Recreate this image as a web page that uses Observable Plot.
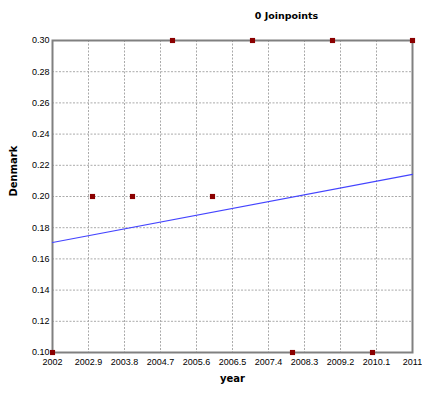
<!DOCTYPE html>
<html>
<head>
<meta charset="utf-8">
<script src="https://cdn.jsdelivr.net/npm/d3@7"></script>
<script src="https://cdn.jsdelivr.net/npm/@observablehq/plot@0.6"></script>
<style>
  html, body { margin: 0; padding: 0; background: #fff; }
</style>
</head>
<body>
<div id="chart"></div>
<script>
const years = [2002, 2003, 2004, 2005, 2006, 2007, 2008, 2009, 2010, 2011];
const rates = [0.10, 0.20, 0.20, 0.30, 0.20, 0.30, 0.10, 0.30, 0.10, 0.30];
const fitYears = [2002, 2011];
const fitValues = [0.1705, 0.2142];
const xTicks = [2002, 2002.9, 2003.8, 2004.7, 2005.6, 2006.5, 2007.4, 2008.3, 2009.2, 2010.1, 2011];
const yTicks = [0.10, 0.12, 0.14, 0.16, 0.18, 0.20, 0.22, 0.24, 0.26, 0.28, 0.30];
const title = "0 Joinpoints";
const xLabel = "year";
const yLabel = "Denmark";

const points = years.map((y, i) => ({year: y, value: rates[i]}));
const fit = fitYears.map((y, i) => ({year: y, value: fitValues[i]}));

const chart = Plot.plot({
  width: 422,
  height: 394,
  marginLeft: 52,
  marginRight: 10,
  marginTop: 40,
  marginBottom: 42,
  style: {fontFamily: "'Liberation Sans', Arial, sans-serif", fontSize: "9px", color: "#000", background: "#fff"},
  x: {domain: [2002, 2011], ticks: xTicks, tickFormat: d => String(+d.toFixed(1)), label: null},
  y: {domain: [0.10, 0.30], ticks: yTicks, tickFormat: d3.format(".2f"), label: null},
  marks: [
    Plot.gridX(xTicks, {stroke: "#aaa", strokeOpacity: 1, strokeDasharray: "2,1.5"}),
    Plot.gridY(yTicks, {stroke: "#aaa", strokeOpacity: 1, strokeDasharray: "2,1.5"}),
    Plot.frame({stroke: "#808080", strokeWidth: 2}),
    Plot.axisX(xTicks, {tickSize: 0, tickPadding: 6, tickFormat: d => String(+d.toFixed(1)), label: null, fontSize: 9}),
    Plot.axisY(yTicks, {tickSize: 0, tickPadding: 3, tickFormat: d3.format(".2f"), label: null, fontSize: 9}),
    Plot.line(fit, {x: "year", y: "value", stroke: "#4444ff", strokeWidth: 1.2}),
    Plot.dot(points, {x: "year", y: "value", symbol: "square", r: 2.9, fill: "#8b0000", stroke: "none"}),
    Plot.text([title], {frameAnchor: "top", dx: 54, dy: -28, fontWeight: "bold", fontSize: 9.5, fontFamily: "'DejaVu Sans', Verdana, sans-serif", fill: "#000"}),
    Plot.text([xLabel], {frameAnchor: "bottom", dy: 29, fontWeight: "bold", fontSize: 10, fontFamily: "'DejaVu Sans', Verdana, sans-serif", fill: "#000"}),
    Plot.text([yLabel], {frameAnchor: "left", dx: -38.5, rotate: -90, fontWeight: "bold", fontSize: 10, fontFamily: "'DejaVu Sans', Verdana, sans-serif", fill: "#000"})
  ]
});
document.getElementById("chart").appendChild(chart);
</script>
</body>
</html>
